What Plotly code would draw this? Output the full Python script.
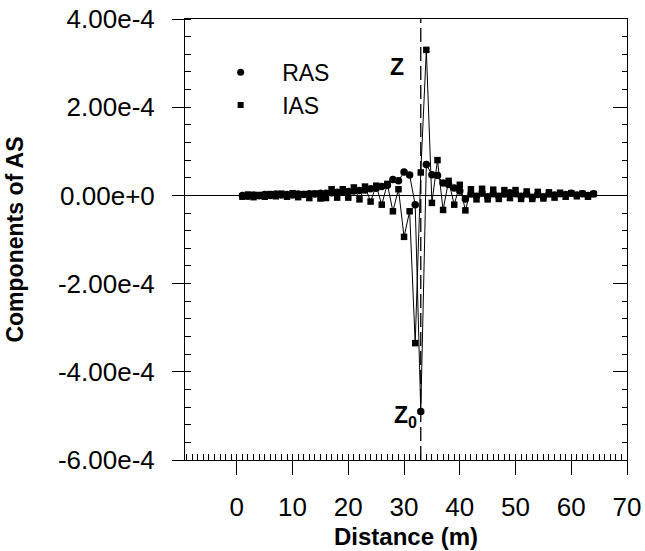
import plotly.graph_objects as go

# ---- data (units of 1e-5) ----
distance = list(range(1, 65))
ras_e5 = [0.0, -0.2, 0.1, -0.1, 0.2, 0.0, 0.3, 0.1, 0.2, 0.1,
          0.3, 0.2, 0.4, 0.3, 0.5, 0.5, 0.6, 0.7, 0.8, 0.9,
          1.0, 1.1, 1.2, 1.5, 1.6, 2.0, 2.3, 3.6, 3.3, 5.3,
          4.6, -2.1, -49.0, 7.0, 4.7, 4.5, 2.8, 2.5, 1.7, 1.0,
          -0.8, 0.3, -0.2, 0.5, -0.3, 0.4, -0.2, 0.3, 0.6, 0.4,
          -0.2, 0.3, -0.4, 0.2, -0.3, 0.3, 0.1, 0.4, 0.2, 0.5,
          0.1, 0.4, 0.0, 0.4]
ias_e5 = [-0.3, 0.2, -0.4, 0.1, -0.3, 0.3, -0.2, 0.4, -0.3, 0.5,
          -0.4, 0.3, -0.6, 0.4, -0.7, -0.6, 1.4, -0.5, 1.4, -0.5,
          1.8, -0.9, 2.0, -1.4, 2.2, -2.1, 2.6, -3.6, 1.4, -9.4,
          -3.6, -33.5, 5.2, 33.0, -1.7, 8.0, -3.3, 3.3, -2.1, 2.4,
          -3.4, 1.4, -0.9, 1.5, -0.9, 1.3, -0.8, 1.2, -0.6, 1.2,
          -0.8, 0.9, -0.8, 0.8, -0.7, 0.7, -0.5, 0.6, -0.3, 0.5,
          -0.2, 0.4, -0.3, 0.3]
ras = [v * 1e-5 for v in ras_e5]
ias = [v * 1e-5 for v in ias_e5]

y_tickvals = [4e-4, 2e-4, 0.0, -2e-4, -4e-4, -6e-4]
y_ticktext = ["4.00e-4", "2.00e-4", "0.00e+0", "-2.00e-4", "-4.00e-4", "-6.00e-4"]
x_tickvals = [0, 10, 20, 30, 40, 50, 60, 70]
z_line_x = 33

FONT = "Liberation Sans, Arial, sans-serif"

fig = go.Figure()
fig.add_trace(go.Scatter(x=distance, y=ras, mode="lines+markers", name="RAS",
                         line=dict(color="black", width=1),
                         marker=dict(symbol="circle", size=7.5, color="black"),
                         showlegend=False))
fig.add_trace(go.Scatter(x=distance, y=ias, mode="lines+markers", name="IAS",
                         line=dict(color="black", width=1),
                         marker=dict(symbol="square", size=6.5, color="black"),
                         showlegend=False))
# legend entries (marker only)
fig.add_trace(go.Scatter(x=[None], y=[None], mode="markers", name="RAS",
                         marker=dict(symbol="circle", size=7, color="black")))
fig.add_trace(go.Scatter(x=[None], y=[None], mode="markers", name="IAS",
                         marker=dict(symbol="square", size=6, color="black")))
# invisible trace for right axis ticks
fig.add_trace(go.Scatter(x=[None], y=[None], yaxis="y2", showlegend=False))

fig.add_shape(type="line", x0=z_line_x, x1=z_line_x, y0=0, y1=1, xref="x", yref="paper",
              line=dict(color="black", width=1.3, dash="14px,5px"))

fig.add_annotation(x=28.75, y=2.91e-4, text="<b>Z</b>", showarrow=False,
                   font=dict(size=23, color="black", family=FONT))
fig.add_annotation(x=30.2, y=-5.02e-4, text="<b>Z<sub>0</sub></b>", showarrow=False,
                   font=dict(size=23, color="black", family=FONT))

fig.update_layout(
    width=645, height=551,
    margin=dict(l=185, r=18, t=19, b=91),
    paper_bgcolor="white", plot_bgcolor="white",
    font=dict(family=FONT, color="black", size=22),
    legend=dict(x=0.032, y=0.928, xanchor="left", yanchor="top",
                bgcolor="rgba(0,0,0,0)", font=dict(size=23, family=FONT),
                itemwidth=73, tracegroupgap=0),
    xaxis=dict(range=[-9.3, 70], tickvals=x_tickvals, ticks="outside", ticklen=14,
               tickwidth=1, tickcolor="black", showline=True, linecolor="black",
               linewidth=1, mirror=True, showgrid=False, zeroline=False, automargin=False,
               tickfont=dict(size=26, family=FONT), ticklabelstandoff=10,
               minor=dict(dtick=1, ticks="inside", ticklen=6, tickcolor="black", tickwidth=1,
                          showgrid=False),
               title=dict(text="<b>Distance (m)</b>", font=dict(size=24, family=FONT), standoff=6)),
    yaxis=dict(range=[-6e-4, 4e-4], tickvals=y_tickvals, ticktext=y_ticktext,
               ticks="outside", ticklen=12, tickwidth=1, tickcolor="black",
               showline=True, linecolor="black", linewidth=1, showgrid=False,
               zeroline=True, zerolinecolor="black", zerolinewidth=1, automargin=False,
               tickfont=dict(size=26, family=FONT), ticklabelstandoff=12,
               minor=dict(dtick=4e-5, ticks="inside", ticklen=6, tickcolor="black", tickwidth=1,
                          showgrid=False),
               title=dict(text="<b>Components of AS</b>", font=dict(size=23, family=FONT), standoff=27)),
    yaxis2=dict(range=[-6e-4, 4e-4], overlaying="y", side="right", tickvals=y_tickvals,
                showticklabels=False, ticks="inside", ticklen=14, tickcolor="black",
                showline=True, linecolor="black", linewidth=1, showgrid=False, zeroline=False,
                automargin=False,
                minor=dict(dtick=4e-5, ticks="inside", ticklen=5, tickcolor="black", showgrid=False)),
)

fig.write_html("out.html")
